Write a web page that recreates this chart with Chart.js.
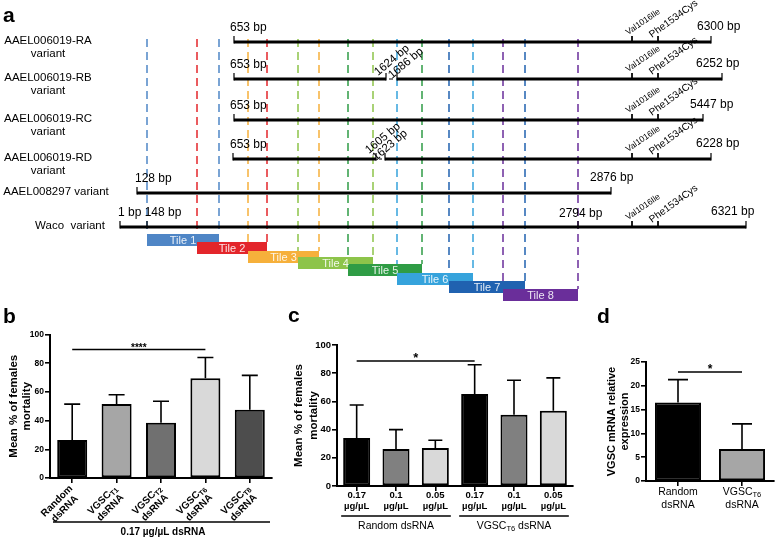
<!DOCTYPE html>
<html>
<head>
<meta charset="utf-8">
<script src="https://cdn.jsdelivr.net/npm/chart.js@4.4.0/dist/chart.umd.min.js"></script>
<style>
  body { margin: 0; background: #fff; width: 778px; height: 537px; position: relative; overflow: hidden; }
  canvas { position: absolute; }
</style>
</head>
<body>
<canvas id="geneMap" width="778" height="305" style="left:0;top:0"></canvas>
<canvas id="chartB" width="282" height="237" style="left:0;top:300px"></canvas>
<canvas id="chartC" width="293" height="237" style="left:285px;top:300px"></canvas>
<canvas id="chartD" width="200" height="237" style="left:578px;top:300px"></canvas>
<script>
// ---------- panel a: transcript map (schematic positions) ----------
const rowNames = [['AAEL006019-RA', 'variant'], ['AAEL006019-RB', 'variant'], ['AAEL006019-RC', 'variant'], ['AAEL006019-RD', 'variant'], ['AAEL008297 variant'], ['Waco  variant']];
const rowLabelX = [48, 48, 48, 48, 56, 70];
const rowY = [42, 79, 120, 159, 193, 227];
const rowSegments = [[[234, 711]], [[234, 386], [397, 722]], [[234, 703]], [[233, 376], [385, 711]], [[137, 611]], [[120, 746]]];
const rowTicks = [[234, 711], [234, 386, 397, 722], [234, 703], [233, 376, 385, 711], [137, 611], [120, 147, 578, 746]];
const startLabels = ['653 bp', '653 bp', '653 bp', '653 bp', '128 bp', '1 bp 148 bp'];
const startLabelX = [230, 230, 230, 230, 135, 118];
const endLabels = ['6300 bp', '6252 bp', '5447 bp', '6228 bp', '2876 bp', '6321 bp'];
const endLabelX = [697, 696, 690, 696, 590, 711];
const innerLabels = ['2794 bp'];
const innerLabelRow = [5];
const innerLabelX = [559];

const breakRows = [1, 3];
const breakDash = [[389, 393], [379, 382]];
const breakLabels = [['1624 bp', '1686 bp'], ['1605 bp', '1623 bp']];
const breakLabelX = [[378, 392], [369, 376]];
const breakLabelY = [[76, 79], [154, 161]];

const mutationNames = ['Val1016Ile', 'Phe1534Cys'];
const mutationX = [632, 658];
const mutationRows = [0, 1, 2, 3, 5];

const tileNames = ['Tile 1', 'Tile 2', 'Tile 3', 'Tile 4', 'Tile 5', 'Tile 6', 'Tile 7', 'Tile 8'];
const tileStart = [147, 197, 248, 298, 348, 397, 449, 503];
const tileEnd = [219, 267, 319, 373, 422, 473, 525, 578];
const tileY = [240, 248, 257, 263, 270, 279, 287, 295];
const tileColors = ['#4f86c6', '#e3262b', '#f6b03b', '#8dc44a', '#2f9c45', '#36a3dc', '#2062b0', '#6a2e9a'];

// ---------- panel b ----------
const bLabels = [['Random', 'dsRNA'], ['VGSC{T1}', 'dsRNA'], ['VGSC{T2}', 'dsRNA'], ['VGSC{T6}', 'dsRNA'], ['VGSC{T8}', 'dsRNA']];
const bMeans = [26.5, 51.5, 38.5, 69.5, 47.5];
const bErrors = [25, 6.5, 15, 14.5, 24];
const bColors = ['#000000', '#a6a6a6', '#707070', '#d9d9d9', '#4d4d4d'];

// ---------- panel c ----------
const cLabels = [['0.17', 'µg/µL'], ['0.1', 'µg/µL'], ['0.05', 'µg/µL'], ['0.17', 'µg/µL'], ['0.1', 'µg/µL'], ['0.05', 'µg/µL']];
const cMeans = [34, 26.3, 27, 65.3, 50.5, 53.3];
const cErrors = [23.4, 13.7, 5.5, 20.7, 24.5, 23.4];
const cColors = ['#000000', '#808080', '#d9d9d9', '#000000', '#808080', '#d9d9d9'];
const cGroups = ['Random dsRNA', 'VGSC{T6} dsRNA'];
const cGroupRange = [[0, 2], [3, 5]];

// ---------- panel d ----------
const dLabels = [['Random', 'dsRNA'], ['VGSC{T6}', 'dsRNA']];
const dMeans = [16.5, 6.7];
const dErrors = [4.8, 5.3];
const dColors = ['#000000', '#a6a6a6'];

const FONT = '"Liberation Sans", Arial, sans-serif';
Chart.defaults.font.family = FONT;
Chart.defaults.color = '#000';

function font(size, weight) {
  return `${weight || 'normal'} ${size}px ${FONT}`;
}

// text with {subscript} parts
function richWidth(ctx, text, size, weight) {
  return text.split(/\{([^}]*)\}/).reduce((w, p, i) => {
    ctx.font = font(i % 2 ? size * 0.72 : size, weight);
    return w + ctx.measureText(p).width;
  }, 0);
}

function drawRich(ctx, text, x, y, size, weight, align) {
  const parts = text.split(/\{([^}]*)\}/);
  const total = richWidth(ctx, text, size, weight);
  let cx = align === 'center' ? x - total / 2 : align === 'right' ? x - total : x;
  ctx.textAlign = 'left';
  ctx.textBaseline = 'middle';
  parts.forEach((p, i) => {
    ctx.font = font(i % 2 ? size * 0.72 : size, weight);
    ctx.fillText(p, cx, i % 2 ? y + size * 0.28 : y);
    cx += ctx.measureText(p).width;
  });
}

function rotText(ctx, text, x, y, deg, f) {
  ctx.save();
  ctx.translate(x, y);
  ctx.rotate(-deg * Math.PI / 180);
  ctx.font = f;
  ctx.textAlign = 'left';
  ctx.textBaseline = 'alphabetic';
  ctx.fillText(text, 0, 0);
  ctx.restore();
}

function seg(p0, p1, style) {
  return Object.assign({
    data: [{ x: p0[0], y: p0[1] }, { x: p1[0], y: p1[1] }],
    showLine: true, pointRadius: 0, pointHoverRadius: 0, borderCapStyle: 'butt'
  }, style);
}

// Build gene map datasets
const geneDatasets = [];
tileStart.forEach((s, i) => {
  [s, tileEnd[i]].forEach(xv => {
    geneDatasets.push(seg([xv, 39], [xv, tileY[i] - 6], { borderColor: tileColors[i], borderWidth: 1.5, borderDash: [8, 5], order: 50 }));
  });
});
rowSegments.forEach((segs, r) => {
  segs.forEach(([s, e]) => geneDatasets.push(seg([s, rowY[r]], [e, rowY[r]], { borderColor: '#000', borderWidth: 3, order: 20 })));
  rowTicks[r].forEach(t => geneDatasets.push(seg([t, rowY[r] - 6], [t, rowY[r] + 1.5], { borderColor: '#000', borderWidth: 1.2, order: 20 })));
});
breakRows.forEach((r, k) => {
  geneDatasets.push(seg([breakDash[k][0], rowY[r]], [breakDash[k][1], rowY[r]], { borderColor: '#000', borderWidth: 1, order: 20 }));
});
mutationRows.forEach(r => {
  mutationX.forEach(m => geneDatasets.push(seg([m, rowY[r] - 6], [m, rowY[r]], { borderColor: '#000', borderWidth: 1, order: 20 })));
});
tileStart.forEach((s, i) => {
  geneDatasets.push(seg([s, tileY[i]], [tileEnd[i], tileY[i]], { borderColor: tileColors[i], borderWidth: 12, order: 10 - i }));
});

const geneText = {
  id: 'geneText',
  afterDatasetsDraw(chart) {
    const { ctx, scales: { x, y } } = chart;
    const px = v => x.getPixelForValue(v);
    const py = v => y.getPixelForValue(v);
    ctx.save();
    ctx.fillStyle = '#000';
    ctx.font = font(21, 'bold');
    ctx.textAlign = 'left';
    ctx.textBaseline = 'alphabetic';
    ctx.fillText('a', 3, 22);

    // row names
    ctx.font = font(11.5);
    ctx.textAlign = 'center';
    ctx.textBaseline = 'middle';
    rowNames.forEach((lines, r) => {
      lines.forEach((l, k) => ctx.fillText(l, px(rowLabelX[r]), py(rowY[r] - 1 + k * 13)));
    });

    // bp labels
    ctx.font = font(12);
    ctx.textAlign = 'left';
    rowY.forEach((ry, r) => {
      ctx.fillText(startLabels[r], px(startLabelX[r]), py(ry - 14));
      ctx.fillText(endLabels[r], px(endLabelX[r]), py(ry - 15));
    });
    innerLabels.forEach((t, k) => ctx.fillText(t, px(innerLabelX[k]), py(rowY[innerLabelRow[k]] - 13)));

    // break labels
    breakLabels.forEach((pair, k) => {
      pair.forEach((t, j) => rotText(ctx, t, px(breakLabelX[k][j]), py(breakLabelY[k][j]), 40, font(11.5)));
    });

    // mutations
    mutationRows.forEach(r => {
      rotText(ctx, mutationNames[0], px(mutationX[0] - 4), py(rowY[r] - 7), 34, font(8.5));
      rotText(ctx, mutationNames[1], px(mutationX[1] - 6), py(rowY[r] - 4), 36, font(10));
    });

    // tile names
    ctx.fillStyle = 'rgba(255,255,255,0.88)';
    ctx.font = font(11);
    ctx.textAlign = 'center';
    ctx.textBaseline = 'middle';
    tileNames.forEach((t, i) => ctx.fillText(t, px((tileStart[i] + tileEnd[i]) / 2), py(tileY[i] + 1)));
    ctx.restore();
  }
};

new Chart(document.getElementById('geneMap'), {
  type: 'scatter',
  data: { datasets: geneDatasets },
  options: {
    responsive: false,
    animation: false,
    layout: { padding: 0 },
    plugins: { legend: { display: false }, tooltip: { enabled: false } },
    scales: {
      x: { type: 'linear', min: 0, max: 778, display: false },
      y: { type: 'linear', min: 0, max: 305, reverse: true, display: false }
    }
  },
  plugins: [geneText]
});

// ---------- bar charts ----------
function makeBarChart(id, cfg) {
  const overlay = {
    id: 'overlay',
    afterDatasetsDraw(chart) {
      const { ctx, scales: { x, y } } = chart;
      ctx.save();
      ctx.strokeStyle = '#000';
      ctx.lineWidth = 1.6;
      // SD above the mean
      cfg.means.forEach((m, i) => {
        const cx = x.getPixelForValue(i);
        const y0 = y.getPixelForValue(m);
        const y1 = y.getPixelForValue(m + cfg.errors[i]);
        ctx.beginPath();
        ctx.moveTo(cx, y0);
        ctx.lineTo(cx, y1);
        ctx.moveTo(cx - cfg.cap, y1);
        ctx.lineTo(cx + cfg.cap, y1);
        ctx.stroke();
      });
      // significance
      const sy = y.getPixelForValue(cfg.sig.value);
      const sx0 = x.getPixelForValue(cfg.sig.from);
      const sx1 = x.getPixelForValue(cfg.sig.to);
      ctx.lineWidth = 1.6;
      ctx.beginPath();
      ctx.moveTo(sx0, sy);
      ctx.lineTo(sx1, sy);
      ctx.stroke();
      ctx.fillStyle = '#000';
      ctx.font = font(cfg.sig.size, 'bold');
      ctx.textAlign = 'center';
      ctx.textBaseline = 'alphabetic';
      ctx.fillText(cfg.sig.text, (sx0 + sx1) / 2, sy + cfg.sig.size * 0.1);
      ctx.restore();
    },
    afterDraw(chart) {
      const { ctx, chartArea } = chart;
      ctx.save();
      ctx.fillStyle = '#000';
      // panel letter
      ctx.font = font(21, 'bold');
      ctx.textAlign = 'left';
      ctx.textBaseline = 'alphabetic';
      ctx.fillText(cfg.letter, cfg.letterPos[0], cfg.letterPos[1]);
      // y title
      ctx.font = font(cfg.titleSize, 'bold');
      ctx.textAlign = 'center';
      ctx.textBaseline = 'middle';
      const ty = (chartArea.top + chartArea.bottom) / 2;
      cfg.title.forEach((t, k) => {
        ctx.save();
        ctx.translate(cfg.titleX[k], ty);
        ctx.rotate(-Math.PI / 2);
        ctx.fillText(t, 0, 0);
        ctx.restore();
      });
      cfg.drawX(ctx, chart);
      ctx.restore();
    }
  };

  const axisGrid = { display: true, drawOnChartArea: false, drawTicks: true, tickLength: 5, color: '#000', lineWidth: 1.6 };
  return new Chart(document.getElementById(id), {
    type: 'bar',
    data: {
      labels: cfg.labels.map(l => l.join(' ')),
      datasets: [{
        data: cfg.means,
        backgroundColor: cfg.colors,
        borderColor: '#000',
        borderWidth: 2,
        borderSkipped: false,
        categoryPercentage: 1,
        barPercentage: cfg.barPct
      }]
    },
    options: {
      responsive: false,
      animation: false,
      layout: { padding: cfg.padding },
      plugins: { legend: { display: false }, tooltip: { enabled: false } },
      scales: {
        x: {
          grid: Object.assign({ offset: false }, axisGrid),
          border: { display: true, color: '#000', width: 2 },
          ticks: { display: false },
          afterFit: s => { s.height = cfg.xHeight; }
        },
        y: {
          min: 0,
          max: cfg.yMax,
          grid: axisGrid,
          border: { display: true, color: '#000', width: 2 },
          ticks: { stepSize: cfg.yStep, padding: 1, color: '#000', font: { size: cfg.tickSize, weight: 'bold' } },
          afterFit: s => { s.width = cfg.yWidth; }
        }
      }
    },
    plugins: [overlay]
  });
}

makeBarChart('chartB', {
  labels: bLabels, means: bMeans, errors: bErrors, colors: bColors,
  barPct: 0.676, cap: 8, yMax: 100, yStep: 20, tickSize: 8.5,
  padding: { left: 0, right: 10, top: 34.5, bottom: 0 }, yWidth: 50, xHeight: 59,
  sig: { from: 0, to: 3, value: 89.5, text: '****', size: 10 },
  letter: 'b', letterPos: [3, 23],
  title: ['Mean % of females', 'mortality'], titleX: [14, 27], titleSize: 11.5,
  drawX(ctx, chart) {
    const { x } = chart.scales;
    const base = chart.chartArea.bottom;
    bLabels.forEach((lines, i) => {
      const cx = x.getPixelForValue(i);
      const w = Math.max(...lines.map(l => richWidth(ctx, l, 10, 'bold')));
      ctx.save();
      ctx.translate(cx - 1, base + 9);
      ctx.rotate(-Math.PI / 4);
      lines.forEach((l, k) => drawRich(ctx, l, -w / 2, k * 11, 10, 'bold', 'center'));
      ctx.restore();
    });
    ctx.strokeStyle = '#000';
    ctx.lineWidth = 1.6;
    ctx.beginPath();
    ctx.moveTo(chart.chartArea.left + 3, base + 44);
    ctx.lineTo(chart.chartArea.right - 2, base + 44);
    ctx.stroke();
    ctx.fillStyle = '#000';
    drawRich(ctx, '0.17 µg/µL dsRNA', (chart.chartArea.left + chart.chartArea.right) / 2 + 2, base + 54, 10, 'bold', 'center');
  }
});

makeBarChart('chartC', {
  labels: cLabels, means: cMeans, errors: cErrors, colors: cColors,
  barPct: 0.687, cap: 7, yMax: 100, yStep: 20, tickSize: 9.5,
  padding: { left: 0, right: 5, top: 45, bottom: 0 }, yWidth: 52, xHeight: 51,
  sig: { from: 0, to: 3, value: 88.7, text: '*', size: 13 },
  letter: 'c', letterPos: [3, 22],
  title: ['Mean % of females', 'mortality'], titleX: [14, 29], titleSize: 11.5,
  drawX(ctx, chart) {
    const { x } = chart.scales;
    const base = chart.chartArea.bottom;
    ctx.fillStyle = '#000';
    cLabels.forEach((lines, i) => {
      const cx = x.getPixelForValue(i);
      lines.forEach((l, k) => drawRich(ctx, l, cx, base + 9.5 + k * 10.5, 9.5, 'bold', 'center'));
    });
    ctx.strokeStyle = '#000';
    ctx.lineWidth = 1.6;
    cGroups.forEach((g, k) => {
      const x0 = x.getPixelForValue(cGroupRange[k][0]) - 15.5;
      const x1 = x.getPixelForValue(cGroupRange[k][1]) + 15.5;
      ctx.beginPath();
      ctx.moveTo(x0, base + 30);
      ctx.lineTo(x1, base + 30);
      ctx.stroke();
      drawRich(ctx, g, (x0 + x1) / 2, base + 40, 10.5, 'normal', 'center');
    });
  }
});

makeBarChart('chartD', {
  labels: dLabels, means: dMeans, errors: dErrors, colors: dColors,
  barPct: 0.72, cap: 10, yMax: 25, yStep: 5, tickSize: 8.5,
  padding: { left: 0, right: 4, top: 62, bottom: 0 }, yWidth: 68, xHeight: 56,
  sig: { from: 0, to: 1, value: 22.9, text: '*', size: 12 },
  letter: 'd', letterPos: [19, 23],
  title: ['VGSC mRNA relative', 'expression'], titleX: [34, 47], titleSize: 11,
  drawX(ctx, chart) {
    const { x } = chart.scales;
    const base = chart.chartArea.bottom;
    ctx.fillStyle = '#000';
    dLabels.forEach((lines, i) => {
      const cx = x.getPixelForValue(i);
      lines.forEach((l, k) => drawRich(ctx, l, cx, base + 11 + k * 13, 10.5, 'normal', 'center'));
    });
  }
});
</script>
</body>
</html>
